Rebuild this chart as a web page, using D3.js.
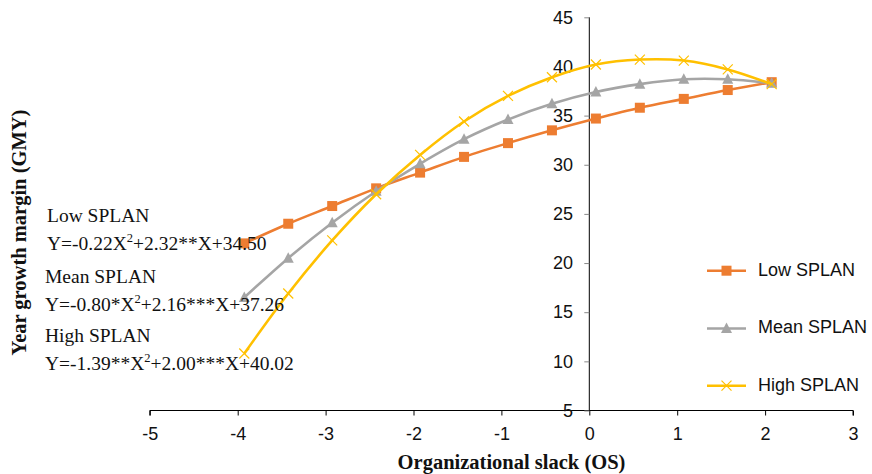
<!DOCTYPE html>
<html>
<head>
<meta charset="utf-8">
<script src="https://cdn.jsdelivr.net/npm/d3@7"></script>
<style>
  html, body { margin: 0; padding: 0; background: #fff; }
  svg { display: block; }
</style>
</head>
<body>
<svg id="chart" width="872" height="474"></svg>
<script>
// ---- data ----
const xValues = [-3.925, -3.425, -2.925, -2.425, -1.925, -1.425, -0.925, -0.425, 0.075, 0.575, 1.075, 1.575, 2.075];
const lowSplan  = [22.0, 24.0, 25.8, 27.6, 29.2, 30.8, 32.2, 33.5, 34.7, 35.8, 36.7, 37.6, 38.4];
const meanSplan = [16.5, 20.5, 24.1, 27.3, 30.1, 32.6, 34.6, 36.2, 37.4, 38.2, 38.7, 38.7, 38.3];
const highSplan = [10.8, 16.9, 22.3, 27.0, 31.0, 34.4, 37.0, 38.9, 40.2, 40.7, 40.6, 39.7, 38.2];
const seriesNames = ["Low SPLAN", "Mean SPLAN", "High SPLAN"];
const xTicks = [-5, -4, -3, -2, -1, 0, 1, 2, 3];
const yTicks = [5, 10, 15, 20, 25, 30, 35, 40, 45];
const equationLabels = [
  {name: "Low SPLAN",  coef: ["Y=-0.22X", "2", "+2.32**X+34.50"]},
  {name: "Mean SPLAN", coef: ["Y=-0.80*X", "2", "+2.16***X+37.26"]},
  {name: "High SPLAN", coef: ["Y=-1.39**X", "2", "+2.00***X+40.02"]}
];
const xTitle = "Organizational slack (OS)";
const yTitle = "Year growth margin (GMY)";

const colors = ["#ED7D31", "#A5A5A5", "#FFC000"];
const markers = ["square", "triangle", "cross"];

const svg = d3.select("#chart");
const x = d3.scaleLinear().domain([-5, 3]).range([149.8, 853.0]);
const y = d3.scaleLinear().domain([5, 45]).range([410.5, 17.3]);

const sans = "'Liberation Sans', Arial, Helvetica, sans-serif";
const serif = "'Liberation Serif', 'Times New Roman', serif";
const fmt = d => (d < 0 ? "-" + Math.abs(d) : String(d));

// ---- axes ----
const xAxisG = svg.append("g").attr("transform", `translate(0,${y(5)})`)
  .call(d3.axisBottom(x).tickValues(xTicks).tickSize(5).tickPadding(5).tickFormat(fmt));
xAxisG.select(".domain").attr("stroke", "#000").attr("d", `M${x(-5)},5V0H${x(3)}V5`);
xAxisG.selectAll(".tick line").attr("stroke", "#000");
xAxisG.selectAll(".tick text").attr("font-family", sans).attr("font-size", 18).attr("fill", "#111")
  .attr("y", 29.5).attr("dy", 0);

const yAxisG = svg.append("g").attr("transform", `translate(${x(0)},0)`)
  .call(d3.axisLeft(y).tickValues(yTicks).tickSize(5).tickPadding(11.3).tickFormat(fmt));
yAxisG.select(".domain").attr("stroke", "#000").attr("d", `M0,${y(45)}V${y(5)}`);
yAxisG.selectAll(".tick line").attr("stroke", "#888");
yAxisG.selectAll(".tick text").attr("font-family", sans).attr("font-size", 18).attr("fill", "#111");

// ---- lines ----
const allSeries = [lowSplan, meanSplan, highSplan];
const line = d3.line().x((d, i) => x(xValues[i])).y(d => y(d)).curve(d3.curveCatmullRom.alpha(0.5));

function drawMarker(g, type, color, cx, cy) {
  if (type === "square") {
    g.append("rect").attr("x", cx - 5).attr("y", cy - 5).attr("width", 10).attr("height", 10).attr("fill", color);
  } else if (type === "triangle") {
    g.append("path").attr("d", `M${cx},${cy - 6}L${cx + 5.5},${cy + 4.5}L${cx - 5.5},${cy + 4.5}Z`).attr("fill", color);
  } else {
    g.append("path").attr("d", `M${cx - 5},${cy - 5}L${cx + 5},${cy + 5}M${cx - 5},${cy + 5}L${cx + 5},${cy - 5}`)
      .attr("stroke", color).attr("stroke-width", 1.2).attr("fill", "none");
  }
}

allSeries.forEach((s, k) => {
  const g = svg.append("g");
  g.append("path").datum(s).attr("d", line).attr("fill", "none").attr("stroke", colors[k]).attr("stroke-width", 2.6);
  s.forEach((v, i) => drawMarker(g, markers[k], colors[k], x(xValues[i]), y(v)));
});

// ---- legend ----
const legendY = [270.7, 328.5, 385.7];
seriesNames.forEach((name, k) => {
  const g = svg.append("g");
  g.append("line").attr("x1", 707).attr("x2", 746).attr("y1", legendY[k]).attr("y2", legendY[k])
    .attr("stroke", colors[k]).attr("stroke-width", 2.6);
  drawMarker(g, markers[k], colors[k], 726.5, legendY[k]);
  g.append("text").attr("x", 758).attr("y", legendY[k] + 4.8).attr("font-family", sans).attr("font-size", 18)
    .attr("fill", "#111").text(name);
});

// ---- equation annotations ----
const nameY = [221.5, 282.7, 341.7];
const eqY = [249.5, 311, 370];
const eqX = [47, 45, 45];
equationLabels.forEach((e, k) => {
  svg.append("text").attr("x", eqX[k]).attr("y", nameY[k]).attr("font-family", serif).attr("font-size", 19.5)
    .attr("fill", "#111").text(e.name);
  const t = svg.append("text").attr("x", eqX[k]).attr("y", eqY[k]).attr("font-family", serif).attr("font-size", 19.5)
    .attr("fill", "#111");
  t.append("tspan").text(e.coef[0]);
  t.append("tspan").attr("dy", -8).attr("font-size", 12.5).text(e.coef[1]);
  t.append("tspan").attr("dy", 8).text(e.coef[2]);
});

// ---- titles ----
svg.append("text").attr("x", 511.5).attr("y", 469.3).attr("text-anchor", "middle")
  .attr("font-family", serif).attr("font-weight", "bold").attr("font-size", 20.5).attr("fill", "#111").text(xTitle);
svg.append("text").attr("transform", "translate(25.5,232.5) rotate(-90)").attr("text-anchor", "middle")
  .attr("font-family", serif).attr("font-weight", "bold").attr("font-size", 20.5).attr("fill", "#111").text(yTitle);
</script>
</body>
</html>
